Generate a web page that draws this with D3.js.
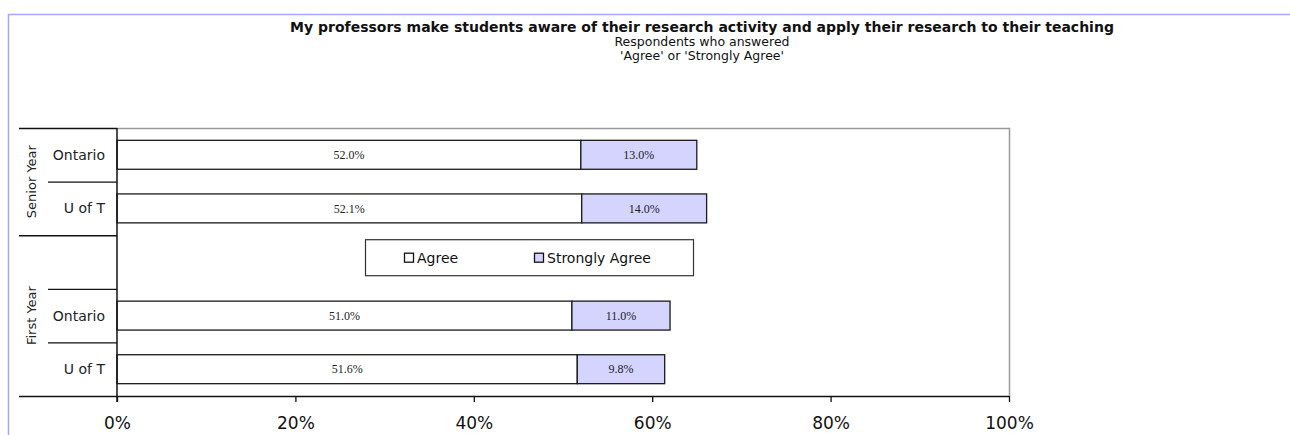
<!DOCTYPE html>
<html>
<head>
<meta charset="utf-8">
<script src="https://cdn.jsdelivr.net/npm/d3@7"></script>
<style>
  body { margin: 0; background: #fff; }
  svg text { font-family: "DejaVu Sans", Verdana, sans-serif; fill: #111; }
</style>
</head>
<body>
<div id="chart"></div>
<script>
const titleText = 'My professors make students aware of their research activity and apply their research to their teaching';
const subtitleLines = ['Respondents who answered', "'Agree' or 'Strongly Agree'"];
const categories = ['Ontario', 'U of T', '', 'Ontario', 'U of T'];
const groupLabels = ['Senior Year', 'Senior Year', 'First Year', 'First Year', 'First Year'];
const agree = [52.0, 52.1, null, 51.0, 51.6];
const stronglyAgree = [13.0, 14.0, null, 11.0, 9.8];
const seriesNames = ['Agree', 'Strongly Agree'];
const xTicks = [0, 20, 40, 60, 80, 100];

const width = 1290, height = 435;
const plot = { left: 117, right: 1009, top: 128, bottom: 396 };
const colors = ['#ffffff', '#d4d4ff'];

const svg = d3.select('#chart').append('svg')
    .attr('width', width)
    .attr('height', height);

// outer chart frame
svg.append('rect')
    .attr('x', 8.5).attr('y', 14.5)
    .attr('width', width).attr('height', height)
    .attr('fill', 'none')
    .attr('stroke', '#a6a6ff')
    .attr('stroke-width', 1.5);

// titles
const cx = 702;
svg.append('text')
    .attr('x', cx).attr('y', 32)
    .attr('text-anchor', 'middle')
    .style('font-size', '14px')
    .style('font-weight', 'bold')
    .text(titleText);
subtitleLines.forEach((t, i) => {
    svg.append('text')
        .attr('x', cx).attr('y', 46 + i * 14)
        .attr('text-anchor', 'middle')
        .style('font-size', '12.5px')
        .text(t);
});

const x = d3.scaleLinear().domain([0, 100]).range([plot.left, plot.right]);
const y = d3.scaleBand().domain(d3.range(categories.length)).range([plot.top, plot.bottom]).padding(0);
const barPad = y.bandwidth() * 0.23;
const barH = y.bandwidth() * 0.54;

// plot area border (top and right, grey)
svg.append('path')
    .attr('d', `M${plot.left},${plot.top + 0.5}H${plot.right + 0.5}V${plot.bottom}`)
    .attr('fill', 'none')
    .attr('stroke', '#9a9a9a')
    .attr('stroke-width', 1.5);

// bars
const rows = categories.map((c, i) => ({ i, a: agree[i], s: stronglyAgree[i] })).filter(d => d.a != null);

rows.forEach(d => {
    const y0 = y(d.i) + barPad;
    const segs = [
        { x0: 0, x1: d.a, v: d.a, k: 0 },
        { x0: d.a, x1: d.a + d.s, v: d.s, k: 1 }
    ];
    segs.forEach(s => {
        svg.append('rect')
            .attr('x', x(s.x0))
            .attr('y', y0)
            .attr('width', x(s.x1) - x(s.x0))
            .attr('height', barH)
            .attr('fill', colors[s.k])
            .attr('stroke', '#1a1a1a')
            .attr('stroke-width', 1.3);
        svg.append('text')
            .attr('x', (x(s.x0) + x(s.x1)) / 2)
            .attr('y', y0 + barH / 2)
            .attr('dy', '0.35em')
            .attr('text-anchor', 'middle')
            .style('font-family', '"Liberation Serif", "Times New Roman", serif')
            .style('font-size', '12px')
            .style('fill', '#222')
            .text(s.v.toFixed(1) + '%');
    });
});

// x axis
const xAxis = svg.append('g')
    .attr('transform', `translate(0,${plot.bottom})`)
    .call(d3.axisBottom(x).tickValues(xTicks).tickSize(6).tickPadding(15).tickFormat(d => d + '%'));
xAxis.select('.domain').attr('stroke', '#111').attr('stroke-width', 1.5).attr('d', `M${plot.left},0.5H${plot.right}`);
xAxis.selectAll('.tick line').attr('stroke', '#111').attr('stroke-width', 1.3);
xAxis.selectAll('.tick text')
    .style('font-size', '17px')
    .style('font-family', '"DejaVu Sans", Verdana, sans-serif')
    .attr('fill', '#222');

// left axis line
svg.append('line')
    .attr('x1', plot.left).attr('x2', plot.left)
    .attr('y1', plot.top).attr('y2', plot.bottom + 6)
    .attr('stroke', '#111').attr('stroke-width', 1.5);

// category separators and labels
const isGroupEdge = i => i === 0 || i === categories.length || groupLabels[i] !== groupLabels[i - 1];
d3.range(categories.length + 1).forEach(i => {
    const yy = i < categories.length ? y(i) : plot.bottom;
    svg.append('line')
        .attr('x1', isGroupEdge(i) ? 19 : 48).attr('x2', plot.left)
        .attr('y1', yy + 0.5).attr('y2', yy + 0.5)
        .attr('stroke', '#111').attr('stroke-width', isGroupEdge(i) ? 1.5 : 1.2);
});
categories.forEach((c, i) => {
    if (!c) return;
    svg.append('text')
        .attr('x', 105)
        .attr('y', y(i) + y.bandwidth() / 2)
        .attr('dy', '0.35em')
        .attr('text-anchor', 'end')
        .style('font-size', '14px')
        .style('fill', '#222')
        .text(c);
});

// group labels (rotated)
const groupNames = Array.from(new Set(groupLabels));
groupNames.forEach(g => {
    const idx = groupLabels.map((v, i) => v === g ? i : -1).filter(i => i >= 0);
    const y0 = y(idx[0]);
    const y1 = y(idx[idx.length - 1]) + y.bandwidth();
    const my = (y0 + y1) / 2;
    svg.append('text')
        .attr('transform', `translate(31,${my}) rotate(-90)`)
        .attr('dy', '0.35em')
        .attr('text-anchor', 'middle')
        .style('font-size', '13px')
        .style('fill', '#222')
        .text(g);
});

// legend in the empty slot
const blank = categories.indexOf('');
const lg = svg.append('g')
    .attr('transform', `translate(365,${y(blank) + 4})`);
lg.append('rect')
    .attr('x', 0.5).attr('y', 0.5)
    .attr('width', 328).attr('height', 36)
    .attr('fill', '#fff')
    .attr('stroke', '#333')
    .attr('stroke-width', 1.2);
const legendX = [39, 169];
seriesNames.forEach((n, i) => {
    lg.append('rect')
        .attr('x', legendX[i] + 0.5).attr('y', 14)
        .attr('width', 9).attr('height', 9)
        .attr('fill', colors[i])
        .attr('stroke', '#111')
        .attr('stroke-width', 1.3);
    lg.append('text')
        .attr('x', legendX[i] + 13)
        .attr('y', 18.5)
        .attr('dy', '0.35em')
        .style('font-size', '14px')
        .text(n);
});
</script>
</body>
</html>
